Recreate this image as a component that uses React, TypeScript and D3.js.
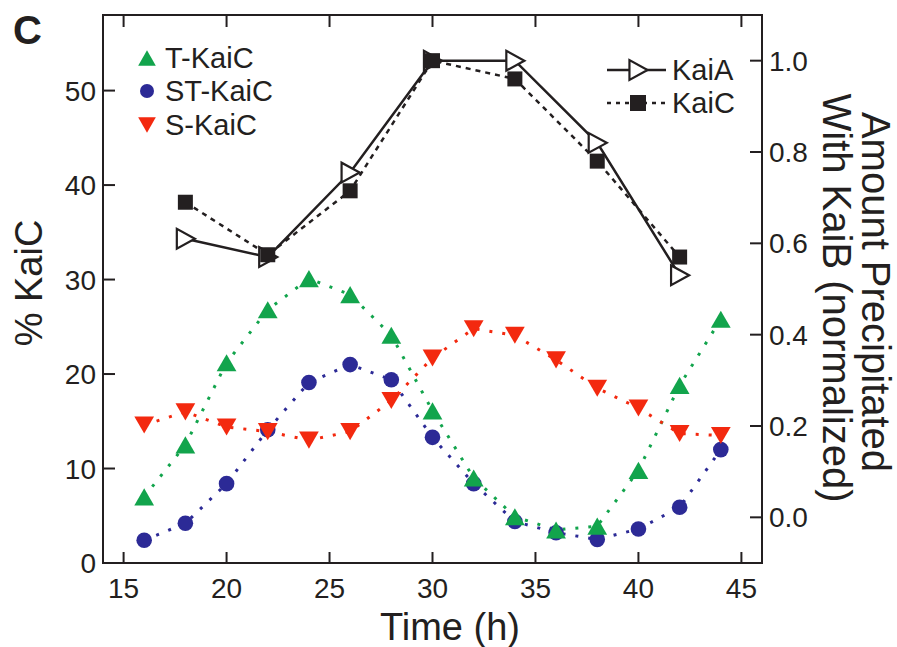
import React from "react";
import * as d3 from "d3";

// Sampling times (h)
const timesPhospho = [16, 18, 20, 22, 24, 26, 28, 30, 32, 34, 36, 38, 40, 42, 44];
const timesPrecip = [18, 22, 26, 30, 34, 38, 42];

// % KaiC in each phosphoform (left axis)
const tKaiC = [7.0, 12.5, 21.2, 26.8, 30.1, 28.4, 24.1, 16.1, 9.0, 4.9, 3.5, 3.9, 9.8, 18.8, 25.8];
const stKaiC = [2.4, 4.2, 8.4, 14.1, 19.1, 21.0, 19.4, 13.3, 8.4, 4.4, 3.2, 2.5, 3.6, 5.9, 12.0];
const sKaiC = [14.6, 16.0, 14.4, 13.9, 13.0, 13.9, 17.2, 21.7, 24.8, 24.1, 21.5, 18.5, 16.4, 13.7, 13.5];

// Amount precipitated with KaiB, normalized (right axis)
const kaiA = [0.61, 0.57, 0.755, 1.0, 1.0, 0.82, 0.53];
const kaiC = [0.69, 0.575, 0.715, 1.0, 0.96, 0.78, 0.57];

// Tick values
const xTicks = [15, 20, 25, 30, 35, 40, 45];
const leftTicks = [0, 10, 20, 30, 40, 50];
const rightTicks = [0, 0.2, 0.4, 0.6, 0.8, 1.0];

const W = 897;
const H = 647;
const box = { left: 103, right: 762, top: 15, bottom: 563 };

const GREEN = "#12a44c";
const BLUE = "#2c2a96";
const RED = "#f3290f";
const INK = "#231f20";
const FONT = "'Liberation Sans', Arial, Helvetica, sans-serif";

const x = d3.scaleLinear().domain([14, 46]).range([box.left, box.right]);
const yL = d3.scaleLinear().domain([0, 58]).range([box.bottom, box.top]);
const yR = d3.scaleLinear().domain([-0.1, 1.1]).range([box.bottom, box.top]);

// Marker shapes centred on their bounding box
const triUp = (s: number) => `M0,${-s * 0.45}L${s * 0.52},${s * 0.45}L${-s * 0.52},${s * 0.45}Z`;
const triDown = (s: number) => `M0,${s * 0.45}L${s * 0.52},${-s * 0.45}L${-s * 0.52},${-s * 0.45}Z`;
const triRight = (s: number) => `M${s * 0.5},0L${-s * 0.45},${s * 0.52}L${-s * 0.45},${-s * 0.52}Z`;

type Series = { values: number[]; color: string; marker: string; kind: "circle" | "path" };

const phosphoSeries: Series[] = [
  { values: stKaiC, color: BLUE, marker: "", kind: "circle" },
  { values: tKaiC, color: GREEN, marker: triUp(19), kind: "path" },
  { values: sKaiC, color: RED, marker: triDown(19), kind: "path" },
];

export default function App() {
  const lineL = d3
    .line<[number, number]>()
    .x((d) => x(d[0]))
    .y((d) => yL(d[1]));
  const lineR = d3
    .line<[number, number]>()
    .x((d) => x(d[0]))
    .y((d) => yR(d[1]));

  const zipL = (v: number[]) => timesPhospho.map((t, i) => [t, v[i]] as [number, number]);
  const zipR = (v: number[]) => timesPrecip.map((t, i) => [t, v[i]] as [number, number]);

  return (
    <svg
      width={W}
      height={H}
      style={{ position: "absolute", left: 0, top: 0, background: "#fff" }}
      fontFamily={FONT}
    >
      {/* panel letter */}
      <text x={13} y={44} fontSize={40} fontWeight="bold" fill={INK}>
        C
      </text>

      {/* frame */}
      <rect
        x={box.left}
        y={box.top}
        width={box.right - box.left}
        height={box.bottom - box.top}
        fill="none"
        stroke={INK}
        strokeWidth={2}
      />

      {/* x ticks (bottom and top, inward) */}
      {xTicks.map((t) => (
        <g key={`xt${t}`}>
          <line x1={x(t)} x2={x(t)} y1={box.bottom} y2={box.bottom - 11} stroke={INK} strokeWidth={2} />
          <line x1={x(t)} x2={x(t)} y1={box.top} y2={box.top + 12} stroke={INK} strokeWidth={2} />
          <text x={x(t)} y={598} fontSize={28} textAnchor="middle" fill={INK}>
            {t}
          </text>
        </g>
      ))}

      {/* left ticks */}
      {leftTicks.map((t) => (
        <g key={`yl${t}`}>
          <line x1={box.left} x2={box.left + 12} y1={yL(t)} y2={yL(t)} stroke={INK} strokeWidth={2} />
          <text x={96} y={yL(t)} dy="0.36em" fontSize={28} textAnchor="end" fill={INK}>
            {t}
          </text>
        </g>
      ))}

      {/* right ticks */}
      {rightTicks.map((t) => (
        <g key={`yr${t}`}>
          <line x1={box.right} x2={box.right - 12} y1={yR(t)} y2={yR(t)} stroke={INK} strokeWidth={2} />
          <text x={769} y={yR(t)} dy="0.36em" fontSize={28} textAnchor="start" fill={INK}>
            {t.toFixed(1)}
          </text>
        </g>
      ))}

      {/* axis titles */}
      <text x={450} y={640} fontSize={38} textAnchor="middle" fill={INK}>
        Time (h)
      </text>
      <text
        transform={`translate(42,283) rotate(-90)`}
        fontSize={38}
        textAnchor="middle"
        fill={INK}
      >
        % KaiC
      </text>
      <text transform={`translate(862,292) rotate(90)`} fontSize={40} textAnchor="middle" fill={INK}>
        Amount Precipitated
      </text>
      <text transform={`translate(823,298) rotate(90)`} fontSize={40} textAnchor="middle" fill={INK}>
        With KaiB (normalized)
      </text>

      {/* phosphoform dotted lines */}
      {phosphoSeries.map((s, i) => (
        <path
          key={`pl${i}`}
          d={lineL(zipL(s.values)) || ""}
          fill="none"
          stroke={s.color}
          strokeWidth={3}
          strokeDasharray="3 10"
        />
      ))}
      {/* phosphoform markers */}
      {phosphoSeries.map((s, i) => (
        <g key={`pm${i}`} fill={s.color}>
          {zipL(s.values).map(([t, v]) =>
            s.kind === "circle" ? (
              <circle key={t} cx={x(t)} cy={yL(v)} r={7.8} />
            ) : (
              <path key={t} d={s.marker} transform={`translate(${x(t)},${yL(v)})`} />
            )
          )}
        </g>
      ))}

      {/* KaiA (solid) and KaiC (dashed) precipitated with KaiB */}
      <path d={lineR(zipR(kaiA)) || ""} fill="none" stroke={INK} strokeWidth={2.5} />
      <path d={lineR(zipR(kaiC)) || ""} fill="none" stroke={INK} strokeWidth={2.5} strokeDasharray="5 5" />
      {zipR(kaiA).map(([t, v]) => (
        <path
          key={`ka${t}`}
          d={triRight(19)}
          transform={`translate(${x(t)},${yR(v)})`}
          fill="#fff"
          stroke={INK}
          strokeWidth={2.2}
        />
      ))}
      {zipR(kaiC).map(([t, v]) => (
        <rect key={`kc${t}`} x={x(t) - 7.5} y={yR(v) - 7.5} width={15} height={15} fill={INK} />
      ))}

      {/* left legend */}
      <g fontSize={29} fill={INK}>
        <path d={triUp(17)} transform="translate(147,58)" fill={GREEN} />
        <text x={165} y={58} dy="0.36em">T-KaiC</text>
        <circle cx={147} cy={91} r={7} fill={BLUE} />
        <text x={165} y={91} dy="0.36em">ST-KaiC</text>
        <path d={triDown(17)} transform="translate(147,125)" fill={RED} />
        <text x={165} y={125} dy="0.36em">S-KaiC</text>
      </g>

      {/* right legend */}
      <g fontSize={29} fill={INK}>
        <line x1={607} x2={666} y1={70} y2={70} stroke={INK} strokeWidth={2.5} />
        <path d={triRight(19)} transform="translate(638,70)" fill="#fff" stroke={INK} strokeWidth={2.2} />
        <text x={672} y={70} dy="0.36em">KaiA</text>
        <line x1={607} x2={666} y1={103} y2={103} stroke={INK} strokeWidth={2.5} strokeDasharray="4 5" />
        <rect x={630} y={95} width={16} height={16} fill={INK} />
        <text x={672} y={103} dy="0.36em">KaiC</text>
      </g>
    </svg>
  );
}
